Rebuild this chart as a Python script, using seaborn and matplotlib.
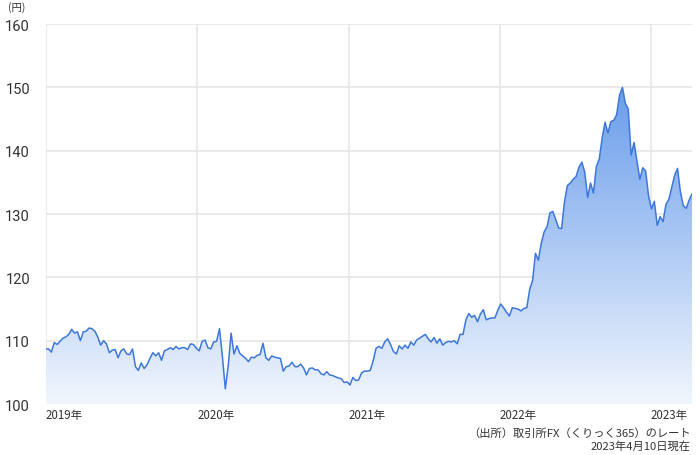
import numpy as np
import pandas as pd
import matplotlib
matplotlib.use("Agg")
import matplotlib.pyplot as plt
import matplotlib.dates as mdates
import seaborn as sns
from matplotlib.colors import LinearSegmentedColormap

# -------------------------------
# Data: USD/JPY, weekly (Mondays)
# -------------------------------
rate_2019 = [108.7,
             108.7, 108.2, 109.7, 109.4, 109.9, 110.4, 110.6, 111.0, 111.8, 111.2,
             111.4, 110.0, 111.4, 111.5, 112.0, 111.9, 111.5, 110.6, 109.3, 110.0,
             109.5, 108.1, 108.5, 108.6, 107.3, 108.4, 108.7, 107.9, 107.8, 108.7,
             105.9, 105.3, 106.5, 105.6, 106.2, 107.2, 108.1, 107.6, 108.1, 106.9,
             108.4, 108.6, 108.9, 108.6, 109.1, 108.7, 108.9, 108.9, 108.6, 109.5,
             109.4, 108.8]
rate_2020 = [108.4, 109.9, 110.1, 108.9, 108.7, 109.8, 109.9, 111.9, 107.5, 102.4,
             106.0, 111.2, 107.9, 109.2, 108.0, 107.6, 107.2, 106.7, 107.4, 107.3,
             107.7, 107.8, 109.6, 107.3, 106.9, 107.6, 107.4, 107.3, 107.2, 105.2,
             105.9, 106.0, 106.6, 105.9, 105.9, 106.3, 105.7, 104.6, 105.6, 105.7,
             105.4, 105.4, 104.8, 104.6, 105.1, 104.6, 104.5, 104.3, 104.1, 104.0,
             103.4, 103.5]
rate_2021 = [103.0, 104.2, 103.7, 103.8, 104.9, 105.2, 105.2, 105.3, 106.8, 108.8,
             109.1, 108.8, 109.8, 110.3, 109.4, 108.3, 107.9, 109.2, 108.7, 109.3,
             108.8, 109.8, 109.3, 110.1, 110.4, 110.7, 111.0, 110.3, 109.8, 110.5,
             109.6, 110.3, 109.3, 109.7, 109.9, 109.8, 110.0, 109.5, 111.0, 111.0,
             113.3, 114.3, 113.7, 114.0, 113.0, 114.2, 114.9, 113.3, 113.5, 113.6,
             113.6, 114.8]
rate_2022 = [115.8, 115.2, 114.5, 113.9, 115.2, 115.1, 115.0, 114.7, 115.1, 115.2,
             118.1, 119.5, 123.8, 122.7, 125.4, 127.2, 128.0, 130.2, 130.4, 129.1,
             127.8, 127.7, 131.9, 134.5, 134.9, 135.5, 135.9, 137.4, 138.2, 136.6,
             132.6, 134.9, 133.3, 137.5, 138.7, 142.0, 144.5, 142.8, 144.6, 144.8,
             145.7, 148.8, 150.0, 147.5, 146.6, 139.3, 141.3, 138.4, 135.5, 137.3,
             136.8, 132.9]
rate_2023 = [130.8, 132.0, 128.2, 129.6, 128.8, 131.5, 132.3, 134.2, 136.1, 137.2,
             133.5, 131.3, 130.9, 132.2, 133.2]

rates = rate_2019 + rate_2020 + rate_2021 + rate_2022 + rate_2023
dates = pd.DatetimeIndex([pd.Timestamp("2019-01-01")]).append(
    pd.date_range("2019-01-07", "2023-04-10", freq="W-MON"))

year_ticks = pd.to_datetime(["2019-01-01", "2020-01-01", "2021-01-01",
                             "2022-01-01", "2023-01-01"])
year_labels = ["2019年", "2020年", "2021年", "2022年", "2023年"]
y_ticks = [100, 110, 120, 130, 140, 150, 160]

df = pd.DataFrame({"date": dates, "rate": rates})

# -------------------------------
# Style
# -------------------------------
sns.set_theme(style="white")
plt.rcParams["font.family"] = ["Noto Sans CJK JP", "DejaVu Sans"]

fig = plt.figure(figsize=(7, 4.56), dpi=100)
ax = fig.add_axes([0.0657, 0.1118, 0.9229, 0.8332])

x0 = mdates.date2num(pd.Timestamp("2019-01-01"))
x1 = mdates.date2num(pd.Timestamp("2023-04-10"))

# gradient fill under the line (by value)
cmap = LinearSegmentedColormap.from_list("fx", ["#f1f6fd", "#6a9deb"])
grad = np.linspace(0, 1, 256).reshape(-1, 1)
im = ax.imshow(grad, extent=[x0, x1, 100, 150], origin="lower",
               aspect="auto", cmap=cmap, zorder=1)
poly = ax.fill_between(df["date"], df["rate"], 100, color="none", lw=0)
im.set_clip_path(poly.get_paths()[0], transform=ax.transData)

sns.lineplot(data=df, x="date", y="rate", color="#3d78d8", lw=1.1,
             ax=ax, zorder=3)

# -------------------------------
# Axes
# -------------------------------
ax.set_xlim(x0, x1)
ax.set_ylim(100, 160)
ax.set_yticks(y_ticks)
ax.set_xticks(year_ticks)
ax.set_xticklabels(year_labels, ha="left", fontsize=8.3, color="#333333")
ax.set_yticklabels([str(v) for v in y_ticks], fontsize=10.5, color="#333333",
                   family=["Roboto", "DejaVu Sans"])
ax.tick_params(axis="both", length=0)
ax.tick_params(axis="y", pad=11.5)
ax.tick_params(axis="x", pad=3)
ax.grid(True, color="#e4e4e4", lw=1.1)
ax.set_axisbelow(True)
for s in ax.spines.values():
    s.set_visible(False)
ax.set_xlabel("")
ax.set_ylabel("")

fig.text(8 / 700, 1 - 8 / 456, "(円)", fontsize=7.5, color="#333333",
         ha="left", va="center")
fig.text(691 / 700, 1 - 434 / 456, "（出所）取引所FX（くりっく365）のレート",
         fontsize=8.1, color="#333333", ha="right", va="center")
fig.text(691 / 700, 1 - 446 / 456, "2023年4月10日現在",
         fontsize=8.1, color="#333333", ha="right", va="center")

fig.savefig("out.png", dpi=100)
